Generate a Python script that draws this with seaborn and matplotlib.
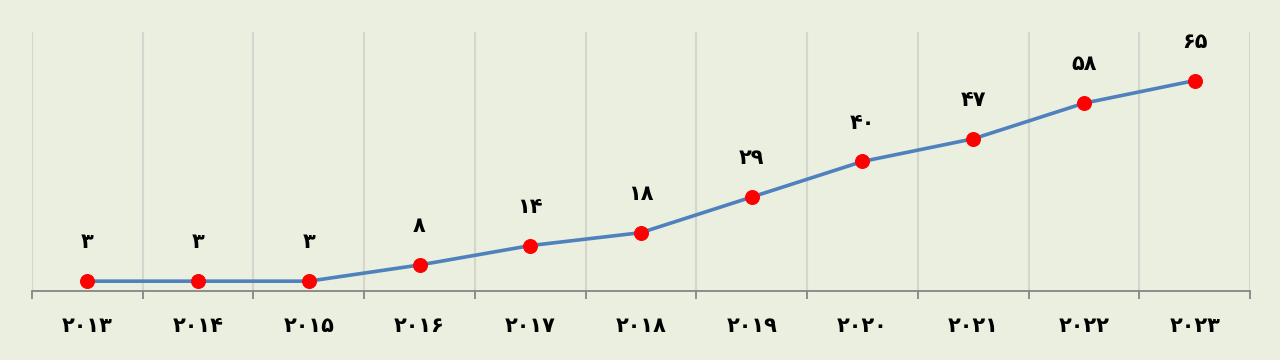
import matplotlib
matplotlib.use("Agg")
import matplotlib.pyplot as plt
import seaborn as sns
import pandas as pd
from matplotlib.ticker import FixedLocator, NullFormatter

years = [2013, 2014, 2015, 2016, 2017, 2018, 2019, 2020, 2021, 2022, 2023]
values = [3, 3, 3, 8, 14, 18, 29, 40, 47, 58, 65]

FA = str.maketrans("0123456789", "۰۱۲۳۴۵۶۷۸۹")
def fa(v):
    return str(v).translate(FA)

bg = "#EBEFDF"
sns.set_theme(style="white")
plt.rcParams['font.family'] = ['DejaVu Sans']

df = pd.DataFrame({"idx": range(len(years)), "value": values})

fig = plt.figure(figsize=(12.8, 3.6), dpi=100, facecolor=bg)
ax = fig.add_axes([0.025, 0.192, 0.9516, 0.719])
ax.set_facecolor(bg)

sns.lineplot(data=df, x="idx", y="value", ax=ax, color="#4F81BD", linewidth=2.6,
             marker="o", markersize=10, markerfacecolor="#FF0000",
             markeredgecolor="#FF0000", zorder=3)

for i, v in enumerate(values):
    ax.annotate(fa(v), (i, v), xytext=(0, 28), textcoords="offset points",
                ha="center", va="center", fontsize=15, fontweight="bold", color="black")

ax.set_xlim(-0.5, len(years) - 0.5)
ax.set_ylim(0, 80)
ax.set_yticks([])
ax.set_xlabel("")
ax.set_ylabel("")

ax.set_xticks(range(len(years)))
ax.set_xticklabels([fa(y) for y in years], fontsize=15, fontweight="bold", color="black")
ax.tick_params(axis="x", which="major", length=0, pad=18)
bounds = [i - 0.5 for i in range(len(years) + 1)]
ax.xaxis.set_minor_locator(FixedLocator(bounds))
ax.xaxis.set_minor_formatter(NullFormatter())
ax.tick_params(axis="x", which="minor", bottom=True, length=6, width=1.3, color="#868686", direction="out")

for b in bounds:
    ax.axvline(b, color="#D4D6CF", linewidth=1.5, zorder=0)

for s in ["top", "left", "right"]:
    ax.spines[s].set_visible(False)
ax.spines["bottom"].set_color("#868686")
ax.spines["bottom"].set_linewidth(1.3)

fig.savefig("out.png", dpi=100, facecolor=bg)
